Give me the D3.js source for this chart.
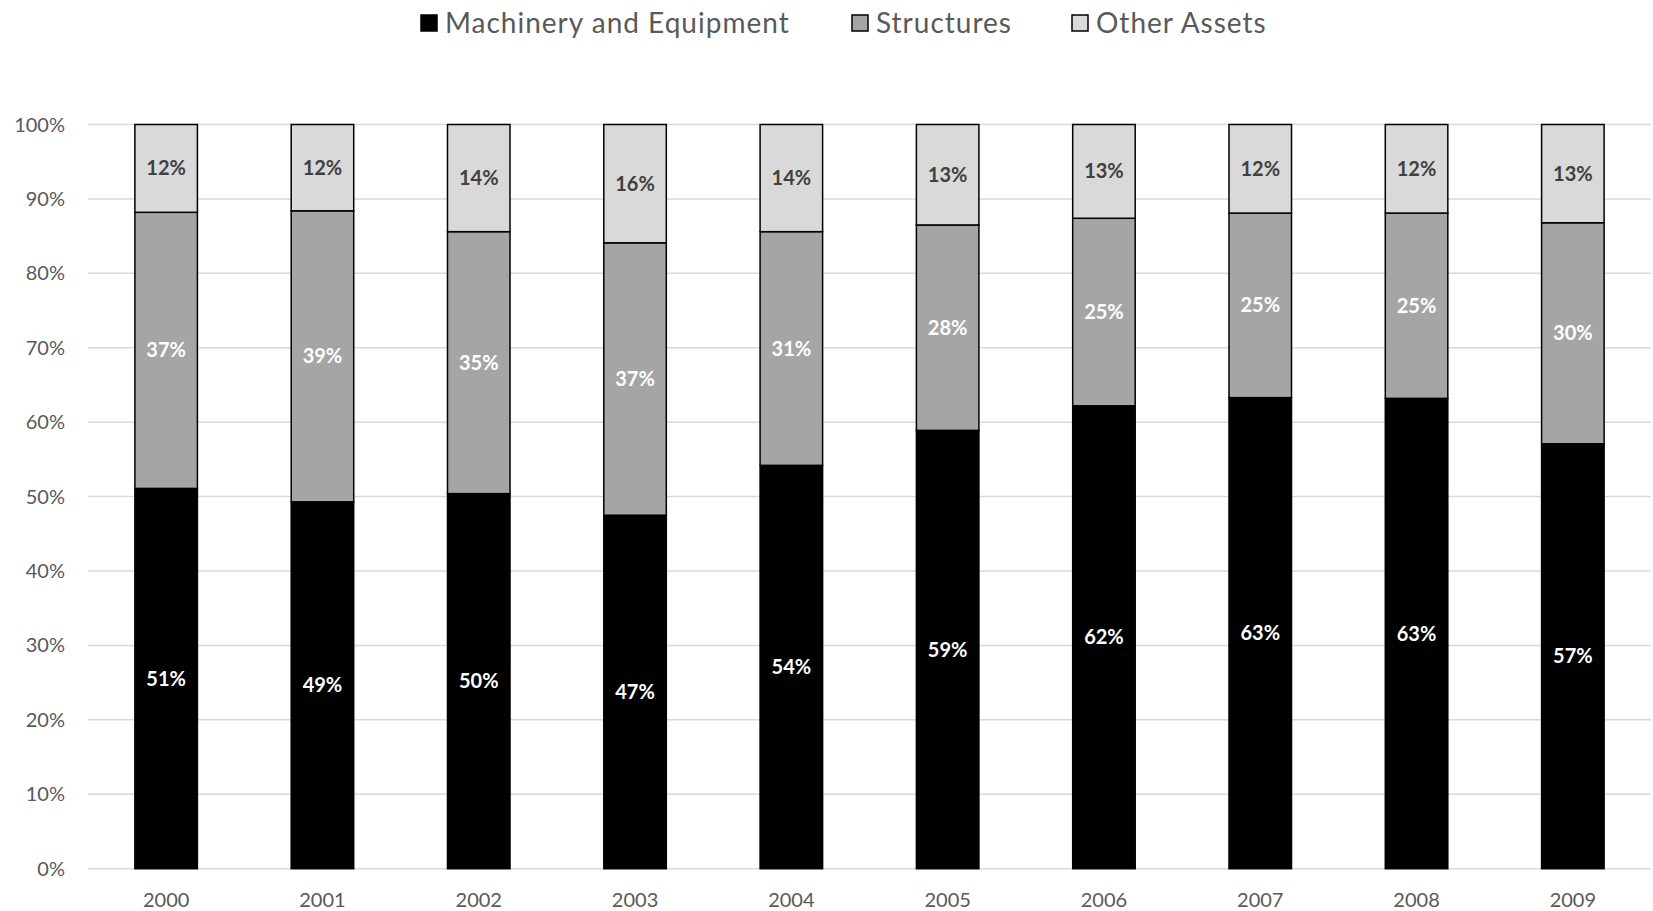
<!DOCTYPE html>
<html>
<head>
<meta charset="utf-8">
<script src="https://cdn.jsdelivr.net/npm/d3@7"></script>
<style>
  html, body { margin: 0; padding: 0; background: #fff; }
  svg { display: block; }
  text { font-family: Lato, "Open Sans", sans-serif; }
</style>
</head>
<body>
<svg id="chart" width="1653" height="911"></svg>
<script>
const years = ["2000","2001","2002","2003","2004","2005","2006","2007","2008","2009"];
const machinery = [51.1, 49.3, 50.4, 47.5, 54.2, 58.9, 62.2, 63.3, 63.2, 57.1];
const structures = [37.1, 39.1, 35.2, 36.6, 31.4, 27.6, 25.2, 24.8, 24.9, 29.7];
const otherAssets = [11.8, 11.6, 14.4, 15.9, 14.4, 13.5, 12.6, 11.9, 11.9, 13.2];
const seriesNames = ["Machinery and Equipment", "Structures", "Other Assets"];
const seriesColors = ["#000000", "#a5a5a5", "#d9d9d9"];
const labelColors = ["#ffffff", "#ffffff", "#404040"];
const yTicks = [0,10,20,30,40,50,60,70,80,90,100];
const labels = [
  ["51%","49%","50%","47%","54%","59%","62%","63%","63%","57%"],
  ["37%","39%","35%","37%","31%","28%","25%","25%","25%","30%"],
  ["12%","12%","14%","16%","14%","13%","13%","12%","12%","13%"]
];

const svg = d3.select("#chart");
const keys = ["m","s","o"];
const table = years.map((y,i) => ({year:y, m:machinery[i], s:structures[i], o:otherAssets[i]}));
const stacked = d3.stack().keys(keys)(table);

const x = d3.scaleBand().domain(years).range([88, 1651]).paddingInner(0.6).paddingOuter(0.3);
const y = d3.scaleLinear().domain([0,100]).range([868.7, 124.5]);

// gridlines
svg.append("g").selectAll("line").data(yTicks).join("line")
  .attr("x1", 88).attr("x2", 1651)
  .attr("y1", d => y(d)).attr("y2", d => y(d))
  .attr("stroke", "#d9d9d9").attr("stroke-width", 1.5);

// y tick labels
svg.append("g").selectAll("text").data(yTicks).join("text")
  .attr("x", 65).attr("y", d => y(d)).attr("dy", "0.35em")
  .attr("text-anchor", "end").attr("font-size", 20).attr("fill", "#595959")
  .text(d => d + "%");

// x labels
svg.append("g").selectAll("text").data(years).join("text")
  .attr("x", d => x(d) + x.bandwidth()/2).attr("y", 900).attr("dy", "0.35em")
  .attr("text-anchor", "middle").attr("font-size", 20).attr("fill", "#595959")
  .text(d => d);

// bars
stacked.forEach((layer, k) => {
  const g = svg.append("g");
  g.selectAll("rect").data(layer).join("rect")
    .attr("x", d => x(d.data.year))
    .attr("width", x.bandwidth())
    .attr("y", d => y(d[1]))
    .attr("height", d => y(d[0]) - y(d[1]))
    .attr("fill", seriesColors[k])
    .attr("stroke", "#000").attr("stroke-width", 1.5);
});
// labels
stacked.forEach((layer, k) => {
  svg.append("g").selectAll("text").data(layer).join("text")
    .attr("x", d => x(d.data.year) + x.bandwidth()/2)
    .attr("y", d => y((d[0]+d[1])/2)).attr("dy", "0.35em")
    .attr("text-anchor", "middle").attr("font-size", 20).attr("font-weight", "bold")
    .attr("fill", labelColors[k])
    .text((d,i) => labels[k][i]);
});

// legend
const legendStarts = [421, 852, 1072];
const leg = svg.append("g");
seriesNames.forEach((name, k) => {
  leg.append("rect").attr("x", legendStarts[k]).attr("y", 15).attr("width", 16).attr("height", 16)
    .attr("fill", seriesColors[k]).attr("stroke", "#000").attr("stroke-width", 1.5);
  leg.append("text").attr("x", legendStarts[k] + 24).attr("y", 23).attr("dy", "0.35em")
    .attr("font-size", 28).attr("letter-spacing", 1).attr("fill", "#595959").text(name);
});
</script>
</body>
</html>
